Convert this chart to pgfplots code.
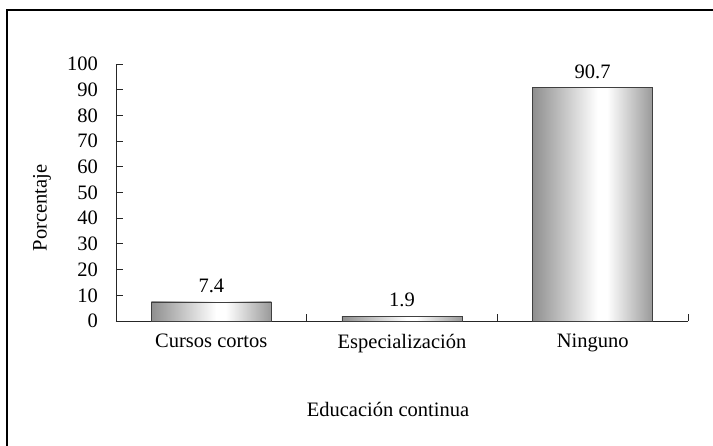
\documentclass[border=0pt]{standalone}
\usepackage{pgfplots}
\pgfplotsset{compat=1.18}
\usepackage{fontspec}
\setmainfont{Liberation Serif}
\newcommand\f{\fontsize{20.5}{24}\selectfont}
\pgfdeclarehorizontalshading{barshade}{100bp}{color(0bp)=(black!44); color(25bp)=(black!44); color(52bp)=(white); color(56bp)=(white); color(75bp)=(black!40); color(100bp)=(black!40)}
\begin{document}
\begin{tikzpicture}[x=1pt,y=1pt]
\useasboundingbox (-116,-124) rectangle (597,321);
\clip (-116,-124) rectangle (597,321);
\draw[line width=1.8pt] (-109,-160) rectangle (640,311);
\begin{axis}[
  at={(0,0)}, anchor=south west,
  width=572pt, height=257pt, scale only axis,
  xmin=0.5, xmax=3.5, ymin=0, ymax=100,
  axis x line*=bottom, axis y line*=left,
  axis line style={line width=0.9pt, black!85},
  /pgf/number format/assume math mode=true,
  ytick={0,10,...,100},
  tick align=inside,
  major tick length=7pt, minor tick length=7pt,
  tick style={line width=0.9pt, black!85},
  xtick={1,2,3},
  xticklabels={Cursos cortos, Especialización, Ninguno},
  x tick style={draw=none},
  minor xtick={0.5,1.5,2.5,3.5},
  minor x tick style={draw=black!85, line width=0.9pt},
  xticklabel style={font=\f, anchor=north, inner sep=0pt, yshift=-13pt},
  yticklabel style={font=\f, anchor=east, inner sep=0pt, xshift=-18pt},
  xlabel={Educación continua},
  ylabel={Porcentaje},
  xlabel style={font=\f, at={(axis description cs:0.4755,-0.3424)}, anchor=center},
  ylabel style={font=\f, at={(axis description cs:-0.1294,0.44)}, anchor=center},
  nodes near coords,
  every node near coord/.append style={font=\f, anchor=south, inner sep=0pt, yshift=9pt,
     /pgf/number format/.cd, fixed, precision=1, fixed zerofill, assume math mode=true},
  barsty/.style={ybar, bar width=120pt, bar shift=0pt, draw=black!75, line width=0.9pt, shading=barshade},
  clip=false,
]
\addplot[barsty] coordinates {(1,7.4)};
\addplot[barsty] coordinates {(2,1.9)};
\addplot[barsty] coordinates {(3,90.7)};
\end{axis}
\end{tikzpicture}
\end{document}
